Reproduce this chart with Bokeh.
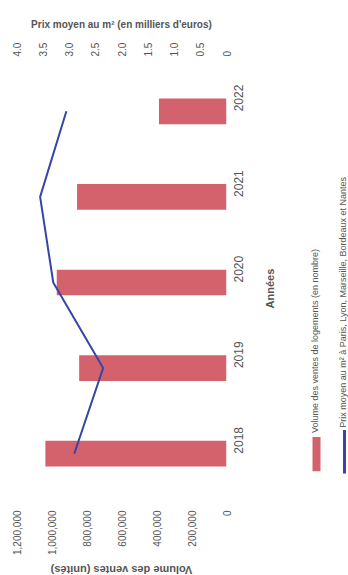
import math
from bokeh.plotting import figure
from bokeh.layouts import row, column
from bokeh.models import (Range1d, LinearAxis, FactorRange, FixedTicker,
                          NumeralTickFormatter, CustomJSTickFormatter)
from bokeh.core.properties import value
from bokeh.embed import file_html
from bokeh.resources import INLINE

years = ["2018", "2019", "2020", "2021", "2022"]
volumes = [1035000, 842000, 970000, 854000, 386000]
prices = [2.90, 2.35, 3.30, 3.55, 3.05]
volume_ticks = [0, 200000, 400000, 600000, 800000, 1000000, 1200000]
price_ticks = [0, 0.5, 1.0, 1.5, 2.0, 2.5, 3.0, 3.5, 4.0]
volume_title = "Volume des ventes (unités)"
price_title = "Prix moyen au m² (en milliers d'euros)"
year_title = "Années"
legend_bar = "Volume des ventes de logements (en nombre)"
legend_line = "Prix moyen au m² à Paris, Lyon, Marseille, Bordeaux et Nantes"

FONT = "Liberation Sans"
TXT = "#555555"
BAR = "#d4626c"
LINE = "#3545a8"

W, H = 348, 575
PW = 258          # main chart width; strip on the right holds "Années" + legend
PH = 560          # main chart height; strip below holds the bottom axis title
FL, FR, FT, FB = 16, 226, 68, 496


def strip(width, height, x0, x1, y0, y1):
    f = figure(width=width, height=height, x_range=Range1d(x0, x1),
               y_range=Range1d(y1, y0), output_backend="svg", toolbar_location=None,
               min_border_left=0, min_border_right=0, min_border_top=0,
               min_border_bottom=0)
    f.axis.visible = False
    f.grid.visible = False
    f.outline_line_color = None
    return f


p = figure(width=PW, height=PH, y_range=FactorRange(*years),
           x_range=Range1d(max(volume_ticks), 0),
           output_backend="svg", toolbar_location=None,
           x_axis_location="below", y_axis_location="right",
           min_border_left=FL, min_border_right=PW - FR,
           min_border_top=FT, min_border_bottom=PH - FB)
p.outline_line_color = None
p.xgrid.grid_line_color = None
p.ygrid.grid_line_color = None
p.extra_x_ranges = {"price": Range1d(max(price_ticks), 0)}

p.hbar(y=years, left=0, right=volumes, height=0.3, fill_color=BAR, line_color=None)
p.line(x=prices, y=years, x_range_name="price", line_color=LINE, line_width=2)

# bottom axis (volumes)
xa = p.xaxis[0]
xa.ticker = FixedTicker(ticks=volume_ticks)
xa.formatter = NumeralTickFormatter(format="0,0")
xa.major_label_orientation = math.pi / 2

# top axis (prices)
ta = LinearAxis(x_range_name="price", ticker=FixedTicker(ticks=price_ticks),
                formatter=CustomJSTickFormatter(code="return tick == 0 ? '0' : tick.toFixed(1);"))
ta.major_label_orientation = math.pi / 2
ta.axis_label = price_title
p.add_layout(ta, "above")

# right axis (years)
ya = p.yaxis[0]
ya.major_label_orientation = math.pi / 2

for ax in [xa, ta, ya]:
    ax.axis_line_color = None
    ax.major_tick_line_color = None
    ax.minor_tick_line_color = None
    ax.major_tick_out = 0
    ax.major_tick_in = 0
    ax.major_label_text_font = FONT
    ax.major_label_text_color = TXT
    ax.major_label_text_font_size = "10px"
    ax.axis_label_text_font = FONT
    ax.axis_label_text_color = TXT
    ax.axis_label_text_font_size = "10px"
    ax.axis_label_text_font_style = "bold"
    ax.major_label_standoff = 14
ya.major_label_text_font_size = "12px"
ya.major_label_standoff = 12
ta.major_label_standoff = 12
ta.axis_label_standoff = 10

# right strip: "Années" title + rotated legend
lg = strip(W - PW, PH, PW, W, 0, PH)
lg.text(x=[269], y=[288], text=[year_title], angle=math.pi / 2,
        text_align="center", text_baseline="middle", text_font=value(FONT),
        text_font_size="11px", text_font_style="bold", text_color=TXT)
lg.quad(left=[312], right=[320], top=[482], bottom=[527], fill_color=BAR, line_color=None)
lg.quad(left=[342.5], right=[345.5], top=[473], bottom=[530], fill_color=LINE, line_color=None)
lg.text(x=[314], y=[477], text=[legend_bar], angle=math.pi / 2, text_align="left",
        text_baseline="middle", text_font=value(FONT), text_font_size="9px",
        text_color=TXT)
lg.text(x=[342], y=[470], text=[legend_line], angle=math.pi / 2, text_align="left",
        text_baseline="middle", text_font=value(FONT), text_font_size="9px",
        text_color=TXT)

# bottom strip: upside-down axis title of the volume axis
bt = strip(W, H - PH, 0, W, PH, H)
bt.text(x=[(FL + FR) / 2], y=[569], text=[volume_title], angle=math.pi,
        text_align="center", text_baseline="middle", text_font=value(FONT),
        text_font_size="11px", text_font_style="bold", text_color=TXT)

layout = column(row(p, lg, spacing=0), bt, spacing=0)
open("out.html", "w").write(file_html(layout, INLINE))
